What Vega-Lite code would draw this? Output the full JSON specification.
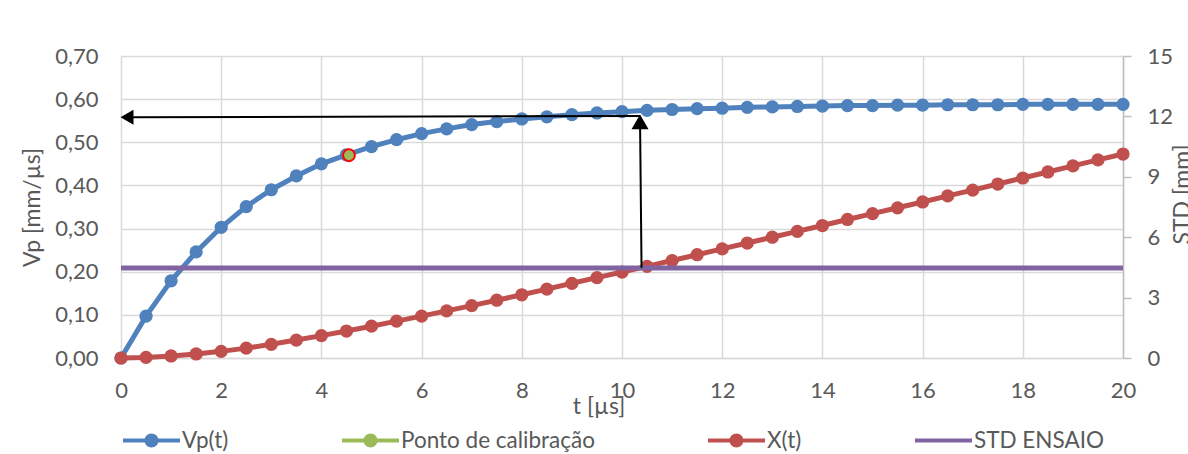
{
  "$schema": "https://vega.github.io/schema/vega-lite/v6.json",
  "width": 1002,
  "height": 302,
  "autosize": {"type": "none"},
  "padding": {"left": 121, "top": 56, "right": 65, "bottom": 96},
  "background": "white",
  "config": {
    "font": "Lato",
    "view": {"stroke": null},
    "axis": {"labelFlush": false, "labelOverlap": false, "labelColor": "#595959", "titleColor": "#595959", "titleFontWeight": "normal", "labelFontSize": 22, "titleFontSize": 23}
  },
  "datasets": {
    "vp": [
      {"series": "Vp(t)", "t": 0, "v": 0},
      {"series": "Vp(t)", "t": 0.5, "v": 0.097},
      {"series": "Vp(t)", "t": 1, "v": 0.179},
      {"series": "Vp(t)", "t": 1.5, "v": 0.246},
      {"series": "Vp(t)", "t": 2, "v": 0.303},
      {"series": "Vp(t)", "t": 2.5, "v": 0.351},
      {"series": "Vp(t)", "t": 3, "v": 0.39},
      {"series": "Vp(t)", "t": 3.5, "v": 0.422},
      {"series": "Vp(t)", "t": 4, "v": 0.45},
      {"series": "Vp(t)", "t": 4.5, "v": 0.471},
      {"series": "Vp(t)", "t": 5, "v": 0.49},
      {"series": "Vp(t)", "t": 5.5, "v": 0.506},
      {"series": "Vp(t)", "t": 6, "v": 0.52},
      {"series": "Vp(t)", "t": 6.5, "v": 0.531},
      {"series": "Vp(t)", "t": 7, "v": 0.541},
      {"series": "Vp(t)", "t": 7.5, "v": 0.548},
      {"series": "Vp(t)", "t": 8, "v": 0.554},
      {"series": "Vp(t)", "t": 8.5, "v": 0.559},
      {"series": "Vp(t)", "t": 9, "v": 0.564},
      {"series": "Vp(t)", "t": 9.5, "v": 0.568},
      {"series": "Vp(t)", "t": 10, "v": 0.571},
      {"series": "Vp(t)", "t": 10.5, "v": 0.574},
      {"series": "Vp(t)", "t": 11, "v": 0.576},
      {"series": "Vp(t)", "t": 11.5, "v": 0.578},
      {"series": "Vp(t)", "t": 12, "v": 0.579},
      {"series": "Vp(t)", "t": 12.5, "v": 0.581},
      {"series": "Vp(t)", "t": 13, "v": 0.582},
      {"series": "Vp(t)", "t": 13.5, "v": 0.583},
      {"series": "Vp(t)", "t": 14, "v": 0.584},
      {"series": "Vp(t)", "t": 14.5, "v": 0.585},
      {"series": "Vp(t)", "t": 15, "v": 0.585},
      {"series": "Vp(t)", "t": 15.5, "v": 0.586},
      {"series": "Vp(t)", "t": 16, "v": 0.586},
      {"series": "Vp(t)", "t": 16.5, "v": 0.587},
      {"series": "Vp(t)", "t": 17, "v": 0.587},
      {"series": "Vp(t)", "t": 17.5, "v": 0.587},
      {"series": "Vp(t)", "t": 18, "v": 0.588},
      {"series": "Vp(t)", "t": 18.5, "v": 0.588},
      {"series": "Vp(t)", "t": 19, "v": 0.588},
      {"series": "Vp(t)", "t": 19.5, "v": 0.588},
      {"series": "Vp(t)", "t": 20, "v": 0.588}
    ],
    "calib": [
      {"series": "Ponto de calibração", "t": 4.55, "v": 0.47}
    ],
    "xt": [
      {"series": "X(t)", "t": 0, "x": 0},
      {"series": "X(t)", "t": 0.5, "x": 0.03},
      {"series": "X(t)", "t": 1, "x": 0.1},
      {"series": "X(t)", "t": 1.5, "x": 0.2},
      {"series": "X(t)", "t": 2, "x": 0.33},
      {"series": "X(t)", "t": 2.5, "x": 0.49},
      {"series": "X(t)", "t": 3, "x": 0.68},
      {"series": "X(t)", "t": 3.5, "x": 0.89},
      {"series": "X(t)", "t": 4, "x": 1.11},
      {"series": "X(t)", "t": 4.5, "x": 1.34},
      {"series": "X(t)", "t": 5, "x": 1.58},
      {"series": "X(t)", "t": 5.5, "x": 1.83},
      {"series": "X(t)", "t": 6, "x": 2.08},
      {"series": "X(t)", "t": 6.5, "x": 2.34},
      {"series": "X(t)", "t": 7, "x": 2.6},
      {"series": "X(t)", "t": 7.5, "x": 2.87},
      {"series": "X(t)", "t": 8, "x": 3.14},
      {"series": "X(t)", "t": 8.5, "x": 3.42},
      {"series": "X(t)", "t": 9, "x": 3.71},
      {"series": "X(t)", "t": 9.5, "x": 3.99},
      {"series": "X(t)", "t": 10, "x": 4.27},
      {"series": "X(t)", "t": 10.5, "x": 4.55},
      {"series": "X(t)", "t": 11, "x": 4.84},
      {"series": "X(t)", "t": 11.5, "x": 5.13},
      {"series": "X(t)", "t": 12, "x": 5.42},
      {"series": "X(t)", "t": 12.5, "x": 5.71},
      {"series": "X(t)", "t": 13, "x": 6.0},
      {"series": "X(t)", "t": 13.5, "x": 6.29},
      {"series": "X(t)", "t": 14, "x": 6.58},
      {"series": "X(t)", "t": 14.5, "x": 6.88},
      {"series": "X(t)", "t": 15, "x": 7.17},
      {"series": "X(t)", "t": 15.5, "x": 7.46},
      {"series": "X(t)", "t": 16, "x": 7.75},
      {"series": "X(t)", "t": 16.5, "x": 8.05},
      {"series": "X(t)", "t": 17, "x": 8.34},
      {"series": "X(t)", "t": 17.5, "x": 8.64},
      {"series": "X(t)", "t": 18, "x": 8.94},
      {"series": "X(t)", "t": 18.5, "x": 9.24},
      {"series": "X(t)", "t": 19, "x": 9.54},
      {"series": "X(t)", "t": 19.5, "x": 9.84},
      {"series": "X(t)", "t": 20, "x": 10.13}
    ],
    "std": [
      {"series": "STD ENSAIO", "t": 0, "x": 4.47},
      {"series": "STD ENSAIO", "t": 20, "x": 4.47}
    ],
    "arrows": [
      {"seg": "h", "t": 10.36, "v": 0.561},
      {"seg": "h", "t": 0.1, "v": 0.558},
      {"seg": "v", "t": 10.39, "v": 0.209},
      {"seg": "v", "t": 10.36, "v": 0.55}
    ],
    "headLeft": [{"head": "left", "t": 0.12, "v": 0.558}],
    "headUp": [{"head": "up", "t": 10.36, "v": 0.5475}]
  },
  "encoding": {
    "x": {
      "field": "t",
      "type": "quantitative",
      "scale": {"domain": [0, 20], "nice": false, "zero": false},
      "axis": {
        "values": [0, 2, 4, 6, 8, 10, 12, 14, 16, 18, 20],
        "grid": true,
        "gridColor": "#d9d9d9",
        "gridWidth": 1.5,
        "domain": true,
        "domainColor": "#d9d9d9",
        "domainWidth": 1.5,
        "ticks": false,
        "tickSize": 0,
        "labelPadding": 39,
        "labelBaseline": "alphabetic",
        "title": "t [µs]",
        "titleX": 477.5,
        "titleY": 55,
        "titleBaseline": "alphabetic",
        "titleAlign": "center"
      }
    }
  },
  "layer": [
    {
      "encoding": {
        "y": {
          "field": "v",
          "type": "quantitative",
          "scale": {"domain": [0, 0.7], "nice": false},
          "axis": {
            "orient": "left",
            "values": [0, 0.1, 0.2, 0.3, 0.4, 0.5, 0.6, 0.7],
            "labelExpr": "replace(format(datum.value, '.2f'), '.', ',')",
            "grid": true,
            "gridColor": "#d9d9d9",
            "gridWidth": 1.5,
            "domain": false,
            "ticks": false,
            "tickSize": 0,
            "labelPadding": 23,
            "title": "Vp [mm/µs]",
            "titleAngle": 270,
            "titleX": -81.5,
            "titleY": 151,
            "titleBaseline": "alphabetic",
            "titleAlign": "center"
          }
        }
      },
      "layer": [
        {
          "data": {"name": "vp"},
          "mark": {"type": "line", "strokeWidth": 5, "point": {"filled": true, "size": 175, "opacity": 1}},
          "encoding": {
            "color": {
              "field": "series",
              "type": "nominal",
              "scale": {"domain": ["Vp(t)", "Ponto de calibração", "X(t)", "STD ENSAIO"], "range": ["#4F81BD", "#9BBB59", "#C0504D", "#8064A2"]},
              "legend": {
                "orient": "none",
                "legendX": 2,
                "legendY": 356,
                "direction": "horizontal",
                "columns": 4,
                "columnPadding": 113,
                "gridAlign": "each",
                "title": null,
                "padding": 0,
                "labelFontSize": 22.5,
                "labelColor": "#595959",
                "labelOffset": 2,
                "labelLimit": 0,
                "symbolSize": 3249,
                "symbolStrokeWidth": 0,
                "symbolOpacity": 1,
                "encode": {
                  "symbols": {
                    "update": {
                      "shape": {"signal": "datum.value === 'STD ENSAIO' ? 'M-1,-0.07L1,-0.07L1,0.07L-1,0.07Z' : 'M-1,-0.07L1,-0.07L1,0.07L-1,0.07Z M-0.245,0A0.245,0.245,0,1,1,0.245,0A0.245,0.245,0,1,1,-0.245,0Z'"},
                      "fill": {"scale": "color", "field": "value"},
                      "stroke": {"value": "transparent"},
                      "strokeWidth": {"value": 0},
                      "opacity": {"value": 1}
                    }
                  }
                }
              }
            }
          }
        },
        {
          "data": {"name": "calib"},
          "mark": {"type": "point", "filled": true, "size": 140, "stroke": "#FF0000", "strokeWidth": 2, "opacity": 1},
          "encoding": {
            "color": {"field": "series", "type": "nominal"}
          }
        }
      ]
    },
    {
      "encoding": {
        "y": {
          "field": "x",
          "type": "quantitative",
          "scale": {"domain": [0, 15], "nice": false},
          "axis": {
            "orient": "right",
            "values": [0, 3, 6, 9, 12, 15],
            "grid": false,
            "domain": true,
            "domainColor": "#bfbfbf",
            "domainWidth": 1.5,
            "ticks": true,
            "tickSize": 8,
            "tickColor": "#bfbfbf",
            "tickWidth": 1.5,
            "labelPadding": 16,
            "title": "STD [mm]",
            "titleAngle": 270,
            "titleX": 66.5,
            "titleY": 138,
            "titleBaseline": "alphabetic",
            "titleAlign": "center"
          }
        }
      },
      "layer": [
        {
          "data": {"name": "xt"},
          "mark": {"type": "line", "strokeWidth": 5, "point": {"filled": true, "size": 175, "opacity": 1}},
          "encoding": {
            "color": {"field": "series", "type": "nominal"}
          }
        },
        {
          "data": {"name": "std"},
          "mark": {"type": "line", "strokeWidth": 5},
          "encoding": {
            "color": {"field": "series", "type": "nominal"}
          }
        }
      ]
    },
    {
      "encoding": {
        "y": {
          "field": "v",
          "type": "quantitative",
          "scale": {"domain": [0, 0.7], "nice": false},
          "axis": null
        }
      },
      "layer": [
        {
          "data": {"name": "arrows"},
          "mark": {"type": "line", "color": "black", "strokeWidth": 2},
          "encoding": {"detail": {"field": "seg", "type": "nominal"}}
        },
        {
          "data": {"name": "headLeft"},
          "mark": {"type": "point", "shape": "triangle-left", "filled": true, "color": "black", "size": 225, "opacity": 1},
          "encoding": {}
        },
        {
          "data": {"name": "headUp"},
          "mark": {"type": "point", "shape": "triangle-up", "filled": true, "color": "black", "size": 289, "opacity": 1},
          "encoding": {}
        }
      ]
    }
  ],
  "resolve": {"scale": {"y": "independent"}}
}
